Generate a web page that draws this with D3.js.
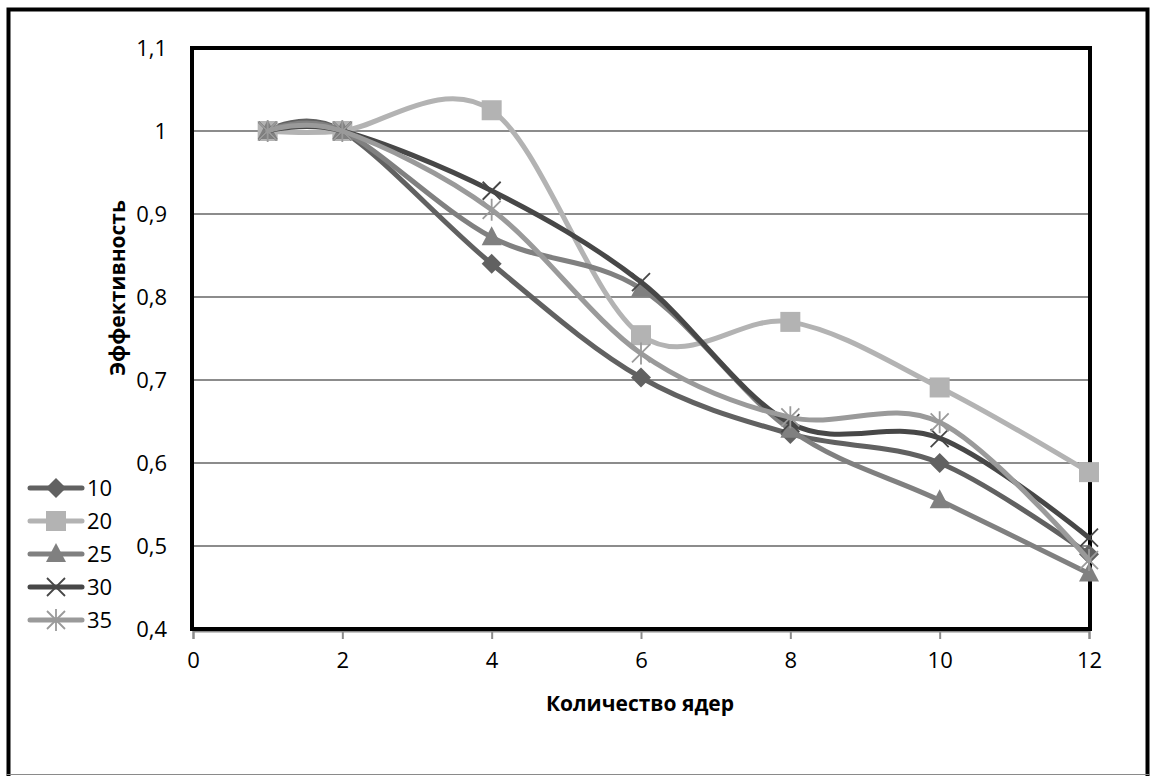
<!DOCTYPE html>
<html>
<head>
<meta charset="utf-8">
<script src="https://cdn.jsdelivr.net/npm/d3@7"></script>
<style>
    body { margin: 0; background: #fff; }
    svg text { font-family: "Open Sans", "Noto Sans", sans-serif; fill: #000; }
</style>
</head>
<body>
<div id="chart"></div>
<script>
// cores on x axis
const cores = [1, 2, 4, 6, 8, 10, 12];
// efficiency per series (legend names)
const seriesNames = ["10", "20", "25", "30", "35"];
const eff10 = [1, 1, 0.84, 0.703, 0.635, 0.60, 0.49];
const eff20 = [1, 1, 1.025, 0.754, 0.77, 0.691, 0.589];
const eff25 = [1, 1, 0.872, 0.81, 0.64, 0.555, 0.467];
const eff30 = [1, 1, 0.928, 0.818, 0.648, 0.63, 0.51];
const eff35 = [1, 1, 0.905, 0.732, 0.655, 0.649, 0.483];
const xTicks = [0, 2, 4, 6, 8, 10, 12];
const yTicks = [0.4, 0.5, 0.6, 0.7, 0.8, 0.9, 1, 1.1];

const seriesValues = [eff10, eff20, eff25, eff30, eff35];
const colors = ["#616161", "#b3b3b3", "#808080", "#474747", "#9a9a9a"];
const markers = ["diamond", "square", "triangle", "cross", "star"];

const W = 1151, H = 776;
const plot = { left: 193, top: 48, right: 1089, bottom: 629 };
const fontFam = "'Open Sans', 'Noto Sans', sans-serif";

const ru = d3.formatLocale({ decimal: ",", thousands: " ", grouping: [3], currency: ["", ""] });
const fmt = v => (Math.abs(v - 1) < 1e-9 ? "1" : ru.format(".1f")(v));

const svg = d3.select("#chart").append("svg")
    .attr("width", W).attr("height", H);

// outer frame
svg.append("rect")
    .attr("x", 8.5).attr("y", 9.5).attr("width", 1139).attr("height", 780)
    .attr("fill", "none").attr("stroke", "#000").attr("stroke-width", 4);
svg.append("line")
    .attr("x1", 6).attr("x2", 1150).attr("y1", 774.5).attr("y2", 774.5)
    .attr("stroke", "#8a8a8a").attr("stroke-width", 1);

const x = d3.scaleLinear().domain([0, 12]).range([plot.left, plot.right]);
const y = d3.scaleLinear().domain([0.4, 1.1]).range([plot.bottom, plot.top]);

// grid
svg.append("g")
    .selectAll("line")
    .data(yTicks)
    .enter().append("line")
    .attr("x1", plot.left).attr("x2", plot.right)
    .attr("y1", d => y(d)).attr("y2", d => y(d))
    .attr("stroke", "#8c8c8c").attr("stroke-width", 2);

// y labels
svg.append("g")
    .selectAll("text")
    .data(yTicks)
    .enter().append("text")
    .attr("x", 167).attr("y", d => y(d))
    .attr("dy", "0.36em")
    .attr("text-anchor", "end")
    .style("font-size", "22px")
    .text(fmt);

// x axis
const xAxis = svg.append("g")
    .attr("transform", `translate(0,${plot.bottom + 2})`)
    .call(d3.axisBottom(x).tickValues(xTicks).tickSize(8).tickPadding(13).tickFormat(d => d));
xAxis.select(".domain").attr("stroke", "#8c8c8c").attr("stroke-width", 2);
xAxis.selectAll(".tick line").attr("stroke", "#8c8c8c").attr("stroke-width", 2);
xAxis.selectAll("text").style("font-size", "22px").style("font-family", fontFam);

// plot frame
svg.append("rect")
    .attr("x", plot.left - 1).attr("y", plot.top)
    .attr("width", plot.right - plot.left + 2).attr("height", plot.bottom - plot.top)
    .attr("fill", "none").attr("stroke", "#000").attr("stroke-width", 4);

// titles
svg.append("text")
    .attr("x", 640).attr("y", 711)
    .attr("text-anchor", "middle")
    .style("font-size", "21px").style("font-weight", "bold")
    .text("Количество ядер");
svg.append("text")
    .attr("transform", "translate(125,288) rotate(-90)")
    .attr("text-anchor", "middle")
    .style("font-size", "21px").style("font-weight", "bold")
    .text("Эффективность");

function drawMarker(g, type, color) {
    if (type === "diamond") {
        g.append("path").attr("d", "M0,-10L10,0L0,10L-10,0Z").attr("fill", color);
    } else if (type === "square") {
        g.append("rect").attr("x", -10).attr("y", -10).attr("width", 20).attr("height", 20).attr("fill", color);
    } else if (type === "triangle") {
        g.append("path").attr("d", "M0,-11L10,8L-10,8Z").attr("fill", color);
    } else if (type === "cross") {
        g.append("path").attr("d", "M-9,-9L9,9M-9,9L9,-9")
            .attr("stroke", color).attr("stroke-width", 1.8).attr("fill", "none");
    } else {
        g.append("path").attr("d", "M-9,-9L9,9M-9,9L9,-9M0,-11L0,11")
            .attr("stroke", color).attr("stroke-width", 1.8).attr("fill", "none");
    }
}

const line = d3.line()
    .x(d => x(d[0]))
    .y(d => y(d[1]))
    .curve(d3.curveCatmullRom.alpha(0));

seriesValues.forEach((vals, i) => {
    const pts = cores.map((c, j) => [c, vals[j]]);
    const g = svg.append("g");
    g.append("path")
        .datum(pts)
        .attr("d", line)
        .attr("fill", "none")
        .attr("stroke", colors[i])
        .attr("stroke-width", 5)
        .attr("stroke-linecap", "round");
    pts.forEach(p => {
        const m = g.append("g").attr("transform", `translate(${x(p[0])},${y(p[1])})`);
        drawMarker(m, markers[i], colors[i]);
    });
});

// legend
const legend = svg.append("g");
seriesNames.forEach((name, i) => {
    const ly = 488 + i * 33;
    const g = legend.append("g").attr("transform", `translate(0,${ly})`);
    g.append("line")
        .attr("x1", 30).attr("x2", 82).attr("y1", 0).attr("y2", 0)
        .attr("stroke", colors[i]).attr("stroke-width", 5).attr("stroke-linecap", "round");
    const m = g.append("g").attr("transform", "translate(56,0)");
    drawMarker(m, markers[i], colors[i]);
    g.append("text")
        .attr("x", 87).attr("y", 0).attr("dy", "0.36em")
        .style("font-size", "22px")
        .text(name);
});
</script>
</body>
</html>
